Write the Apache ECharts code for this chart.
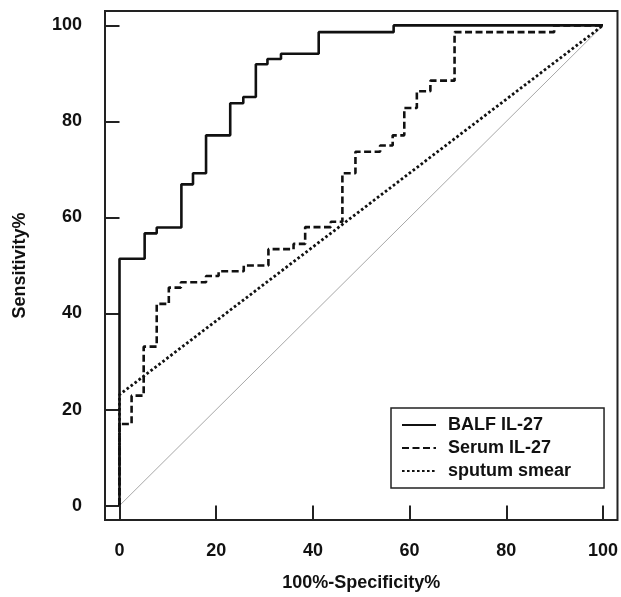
<!DOCTYPE html>
<html>
<head>
<meta charset="utf-8">
<script src="https://cdn.jsdelivr.net/npm/echarts@6/dist/echarts.min.js"></script>
<style>
html,body{margin:0;padding:0;background:#fff;}
#chart{width:621px;height:597px;}
</style>
</head>
<body>
<div id="chart"></div>
<script>
// ROC points (100%-Specificity%, Sensitivity%)
var balfFpr  = [0, 0, 5.2, 7.7, 12.8, 15.2, 17.9, 22.9, 25.6, 28.2, 30.6, 33.4, 41.2, 56.7, 100];
var balfSens = [0, 51.4, 56.7, 57.9, 66.9, 69.2, 77.1, 83.8, 85.1, 91.9, 93.0, 94.1, 98.6, 100, 100];

var serumFpr  = [0, 0, 2.5, 5.0, 7.7, 10.2, 12.7, 17.9, 20.5, 25.7, 30.8, 36.0, 38.4, 43.7, 46.1, 48.8, 53.9, 56.5, 58.9, 61.5, 64.3, 69.3, 89.9, 100];
var serumSens = [0, 17.0, 22.9, 33.1, 42.0, 45.4, 46.5, 47.8, 48.8, 50.0, 53.4, 54.5, 58.0, 59.1, 69.2, 73.7, 75.0, 77.1, 82.8, 86.3, 88.5, 98.6, 100, 100];

var sputumFpr  = [0, 0, 100];
var sputumSens = [0, 23.1, 100];

var refFpr  = [0, 100];
var refSens = [0, 100];

var tickValues = [0, 20, 40, 60, 80, 100];
var seriesNames = ['BALF IL-27', 'Serum IL-27', 'sputum smear'];

function pairs(xs, ys) {
  return xs.map(function (x, i) { return [x, ys[i]]; });
}

var chart = echarts.init(document.getElementById('chart'), null, {renderer: 'canvas'});
var font = 'Liberation Sans, Arial, Helvetica, sans-serif';

function axis(isX) {
  return {
    type: 'value',
    min: -3,
    max: 103,
    name: isX ? '100%-Specificity%' : 'Sensitivity%',
    nameLocation: 'middle',
    nameGap: isX ? 54 : 76,
    nameTextStyle: {fontFamily: font, fontWeight: 'bold', fontSize: 18, color: '#111'},
    axisLine: {show: false},
    splitLine: {show: false},
    axisTick: {
      show: true,
      customValues: tickValues,
      length: 15,
      inside: false,
      lineStyle: {color: '#222', width: 2}
    },
    axisLabel: {
      show: true,
      customValues: tickValues,
      margin: isX ? 22 : 23,
      fontFamily: font,
      fontWeight: 'bold',
      fontSize: 18,
      color: '#111'
    }
  };
}

var option = {
  backgroundColor: '#fff',
  animation: false,
  grid: {
    left: 105, right: 3, top: 11, bottom: 72,
    show: true,
    borderColor: '#222',
    borderWidth: 2,
    backgroundColor: 'transparent'
  },
  xAxis: axis(true),
  yAxis: axis(false),
  legend: {
    data: seriesNames,
    orient: 'vertical',
    left: 391,
    top: 408,
    padding: [8, 33, 8, 10],
    itemWidth: 34,
    itemHeight: 14,
    itemGap: 5,
    borderColor: '#222',
    borderWidth: 1.5,
    itemStyle: {color: 'transparent', borderWidth: 0, opacity: 0},
    textStyle: {fontFamily: font, fontWeight: 'bold', fontSize: 18, color: '#111', lineHeight: 18, padding: [0, 0, 0, 7]}
  },
  series: [
    {
      name: 'Reference',
      type: 'line',
      data: pairs(refFpr, refSens),
      symbol: 'none',
      lineStyle: {color: '#a8a8a8', width: 1},
      z: 1,
      silent: true
    },
    {
      name: 'sputum smear',
      type: 'line',
      data: pairs(sputumFpr, sputumSens),
      symbol: 'none',
      lineStyle: {color: '#111', width: 2.8, type: [2.6, 2.4]},
      itemStyle: {color: '#111'},
      z: 2
    },
    {
      name: 'Serum IL-27',
      type: 'line',
      step: 'end',
      data: pairs(serumFpr, serumSens),
      symbol: 'none',
      lineStyle: {color: '#111', width: 2.6, type: [7, 3.5]},
      itemStyle: {color: '#111'},
      z: 3
    },
    {
      name: 'BALF IL-27',
      type: 'line',
      step: 'end',
      data: pairs(balfFpr, balfSens),
      symbol: 'none',
      lineStyle: {color: '#111', width: 2.6},
      itemStyle: {color: '#111'},
      z: 4
    }
  ]
};
chart.setOption(option);
</script>
</body>
</html>
